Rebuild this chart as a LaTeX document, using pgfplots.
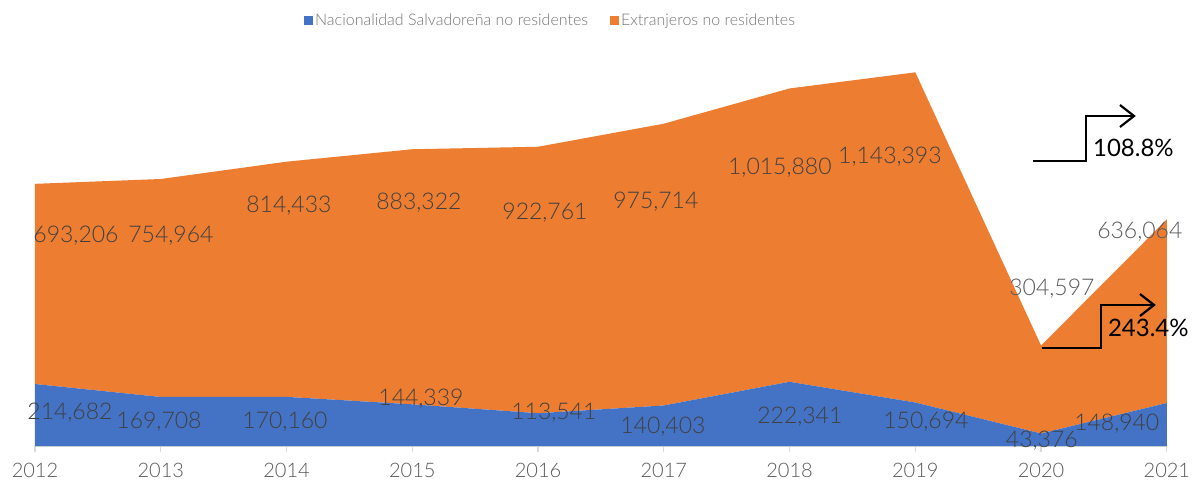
\documentclass[border=0pt]{standalone}
\usepackage{pgfplots}
\pgfplotsset{compat=1.18}
\usepackage{fontspec}
\setmainfont{Lato Light}
\newfontfamily\latoreg{Lato}
\usetikzlibrary{arrows.meta}
\definecolor{cblue}{HTML}{4472C4}
\definecolor{corange}{HTML}{ED7D31}
\definecolor{lbl}{HTML}{404040}
\definecolor{tickc}{HTML}{595959}
\definecolor{legc}{HTML}{757575}
\definecolor{axc}{HTML}{D9D9D9}
\tikzset{dl/.style={font=\fontsize{23}{27}\selectfont, text=lbl, inner sep=0pt}}
\begin{document}
\begin{tikzpicture}
\useasboundingbox (-35pt,-37pt) rectangle (1157pt,446pt);
\begin{axis}[
 scale only axis, width=1132pt, height=404.27pt,
 xmin=2012, xmax=2021, ymin=0, ymax=1400000,
 axis x line*=bottom, axis y line=none,
 x axis line style={draw=axc, line width=1.5pt, -},
 xtick={2012,2013,2014,2015,2016,2017,2018,2019,2020,2021},
 xticklabels={2012,2013,2014,2015,2016,2017,2018,2019,2020,2021},
 tick align=outside, major tick length=6pt,
 xtick style={draw=axc, line width=1.2pt},
 xticklabel style={font=\fontsize{20}{24}\selectfont, text=tickc, yshift=-8pt},
 stack plots=y, clip=false,
 legend style={at={(0.235,1.0537)}, anchor=west, draw=none, fill=none,
   font=\fontsize{16}{19}\selectfont, text=legc,
   /tikz/every even column/.append style={column sep=20pt}},
 legend columns=2,
 legend image code/.code={\fill[#1] (0pt,-4.5pt) rectangle (9pt,4.5pt);},
 after end axis/.code={
  \node[dl] at (axis cs:2012.278,114279) {214,682};
  \node[dl] at (axis cs:2012.986,83112) {169,708};
  \node[dl] at (axis cs:2013.988,83112) {170,160};
  \node[dl] at (axis cs:2015.069,162761) {144,339};
  \node[dl] at (axis cs:2016.126,114279) {113,541};
  \node[dl] at (axis cs:2016.993,65797) {140,403};
  \node[dl] at (axis cs:2018.082,100427) {222,341};
  \node[dl] at (axis cs:2019.084,83112) {150,694};
  \node[dl] at (axis cs:2020.006,17315) {43,376};
  \node[dl] at (axis cs:2020.602,76186) {148,940};
  \node[dl] at (axis cs:2012.326,727230) {693,206};
  \node[dl] at (axis cs:2013.081,727230) {754,964};
  \node[dl] at (axis cs:2014.019,831120) {814,433};
  \node[dl] at (axis cs:2015.053,841509) {883,322};
  \node[dl] at (axis cs:2016.055,806879) {922,761};
  \node[dl] at (axis cs:2016.937,844972) {975,714};
  \node[dl] at (axis cs:2017.923,962714) {1,015,880};
  \node[dl] at (axis cs:2018.798,1000807) {1,143,393};
  \node[dl, text=tickc] at (axis cs:2020.086,543691) {304,597};
  \node[dl, text=tickc] at (axis cs:2020.785,741082) {636,064};
  \draw[line width=2.2pt, -{Straight Barb[length=14pt,width=22pt,line width=2.2pt]}]
    (axis cs:2019.935,986955) -| (axis cs:2020.356,1142790) -- (axis cs:2020.753,1142790);
  \draw[line width=2.2pt, -{Straight Barb[length=14pt,width=22pt,line width=2.2pt]}]
    (axis cs:2020.006,339374) -| (axis cs:2020.475,488283) -- (axis cs:2020.912,488283);
  \node[anchor=west, inner sep=0pt, font=\latoreg\fontsize{24}{28}\selectfont, text=black] at (axis cs:2020.412,1031974) {108.8\%};
  \node[anchor=west, inner sep=0pt, font=\latoreg\fontsize{24}{28}\selectfont, text=black] at (axis cs:2020.531,408634) {243.4\%};
 },
]
\addplot[fill=cblue, draw=none] coordinates {(2012,214682)(2013,169708)(2014,170160)(2015,144339)(2016,113541)(2017,140403)(2018,222341)(2019,150694)(2020,43376)(2021,148940)} \closedcycle;
\addlegendentry{Nacionalidad Salvadoreña no residentes}
\addplot[fill=corange, draw=none] coordinates {(2012,693206)(2013,754964)(2014,814433)(2015,883322)(2016,922761)(2017,975714)(2018,1015880)(2019,1143393)(2020,304597)(2021,636064)} \closedcycle;
\addlegendentry{Extranjeros no residentes}
\end{axis}
\end{tikzpicture}
\end{document}
